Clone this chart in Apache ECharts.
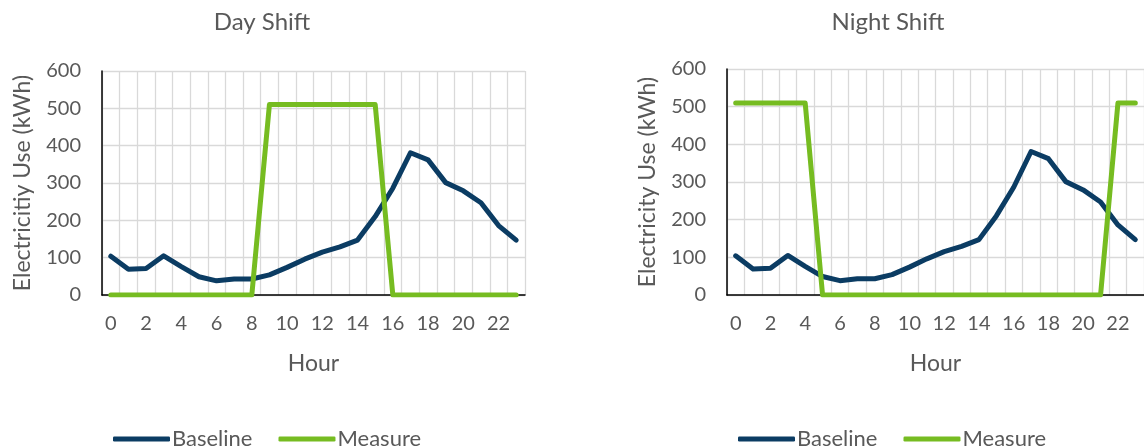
<!DOCTYPE html>
<html>
<head>
<meta charset="utf-8">
<script src="https://cdn.jsdelivr.net/npm/echarts@6/dist/echarts.min.js"></script>
<style>
  html, body { margin: 0; padding: 0; background: #fff; }
  #chart { width: 1144px; height: 447px; }
</style>
</head>
<body>
<div id="chart"></div>
<script>
// Hourly electricity use, kWh
const hours = ['0','1','2','3','4','5','6','7','8','9','10','11','12','13','14','15','16','17','18','19','20','21','22','23'];
const baseline = [104, 69, 71, 105, 76, 49, 38, 43, 43, 54, 74, 96, 115, 129, 147, 210, 286, 381, 362, 301, 279, 247, 186, 147];
const measureDay = [0, 0, 0, 0, 0, 0, 0, 0, 0, 510, 510, 510, 510, 510, 510, 510, 0, 0, 0, 0, 0, 0, 0, 0];
const measureNight = [510, 510, 510, 510, 510, 0, 0, 0, 0, 0, 0, 0, 0, 0, 0, 0, 0, 0, 0, 0, 0, 0, 510, 510];
const panelTitles = ['Day Shift', 'Night Shift'];
const yNames = ['Electricitiy Use (kWh)', 'Electricity Use (kWh)'];
const seriesNames = ['Baseline', 'Measure'];

const FONT = 'Lato';
const TEXT = '#595959';
const NAVY = '#0B3C63';
const GREEN = '#76BC21';

const chart = echarts.init(document.getElementById('chart'), null, { renderer: 'canvas' });

const grids = [
  { left: 102, top: 71, width: 423, height: 224 },
  { left: 727, top: 69, width: 423, height: 226 }
];

function xAxis(i) {
  return {
    type: 'category', gridIndex: i, data: hours, boundaryGap: true,
    name: 'Hour', nameLocation: 'middle', nameGap: 57,
    nameTextStyle: { fontFamily: FONT, fontSize: 23, color: TEXT },
    axisLine: { show: true, lineStyle: { color: '#000', width: 1.5 } },
    axisTick: { show: false },
    axisLabel: { interval: 1, margin: 19, fontFamily: FONT, fontSize: 20, color: TEXT },
    splitLine: { show: true, interval: 0, lineStyle: { color: '#d9d9d9', width: 1.3 } }
  };
}
function yAxis(i) {
  return {
    type: 'value', gridIndex: i, min: 0, max: 600, interval: 100,
    name: yNames[i], nameLocation: 'middle', nameGap: 68, nameRotate: 90,
    nameTextStyle: { fontFamily: FONT, fontSize: 23, color: TEXT },
    axisLine: { show: true, lineStyle: { color: '#000', width: 1.5 } },
    axisTick: { show: false },
    axisLabel: { margin: 21, fontFamily: FONT, fontSize: 20, color: TEXT },
    splitLine: { show: true, lineStyle: { color: '#d9d9d9', width: 1.3 } }
  };
}
function line(name, data, color, i) {
  return {
    name: name, type: 'line', data: data, xAxisIndex: i, yAxisIndex: i,
    symbol: 'none', silent: true, animation: false,
    lineStyle: { color: color, width: 5, cap: 'round', join: 'round' },
    itemStyle: { color: color }
  };
}
function legend(left) {
  return {
    left: left, top: 423, itemWidth: 57, itemHeight: 5, itemGap: 26,
    icon: 'roundRect', data: seriesNames,
    textStyle: { fontFamily: FONT, fontSize: 22, color: TEXT, padding: [0, 0, 0, -3] }
  };
}

chart.setOption({
  animation: false,
  title: [
    { text: panelTitles[0], left: 257, top: 5, textAlign: 'center',
      textStyle: { fontFamily: FONT, fontSize: 24, fontWeight: 'normal', color: TEXT } },
    { text: panelTitles[1], left: 883, top: 5, textAlign: 'center',
      textStyle: { fontFamily: FONT, fontSize: 24, fontWeight: 'normal', color: TEXT } }
  ],
  legend: [legend(108), legend(733)],
  grid: grids,
  xAxis: [xAxis(0), xAxis(1)],
  yAxis: [yAxis(0), yAxis(1)],
  series: [
    line(seriesNames[0], baseline, NAVY, 0),
    line(seriesNames[1], measureDay, GREEN, 0),
    line(seriesNames[0], baseline, NAVY, 1),
    line(seriesNames[1], measureNight, GREEN, 1)
  ]
});
</script>
</body>
</html>
